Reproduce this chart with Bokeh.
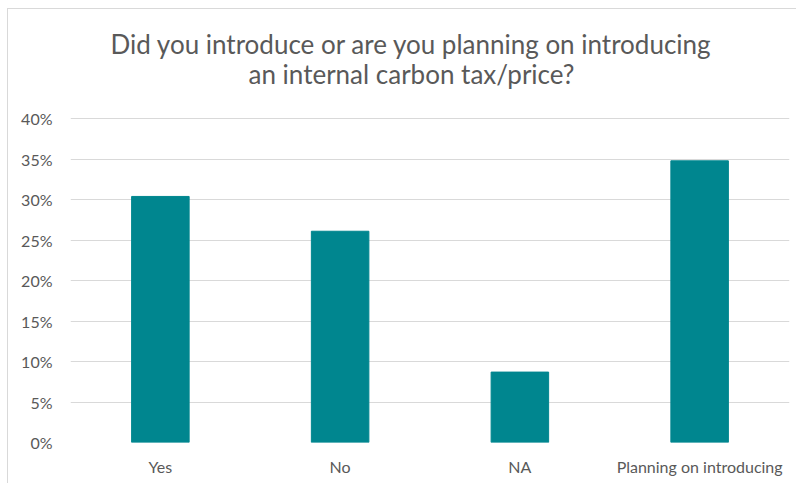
from bokeh.plotting import figure
from bokeh.models import NumeralTickFormatter, Label, FixedTicker, Range1d
from bokeh.embed import file_html
from bokeh.resources import INLINE

categories = ["Yes", "No", "NA", "Planning on introducing"]
shares = [0.304, 0.261, 0.087, 0.348]
y_ticks = [0.0, 0.05, 0.10, 0.15, 0.20, 0.25, 0.30, 0.35, 0.40]
title_lines = ["Did you introduce or are you planning on introducing",
               "an internal carbon tax/price?"]

FONT = "Lato"
GREY = "#595959"

W, H = 789, 475
LEFT, TOP, BOTTOM, RIGHT = 62, 9, 42, 8
AXIS_MAX = 0.40
AXIS_PX = 323.0          # pixel height of the 0..40% axis
HEAD_PX = 100.0          # room above the 40% line kept for the title
per_px = AXIS_MAX / AXIS_PX
y_end = AXIS_MAX + HEAD_PX * per_px

p = figure(x_range=categories, y_range=Range1d(0, y_end), width=W, height=H,
           output_backend="svg", toolbar_location=None,
           min_border_left=LEFT, min_border_right=RIGHT, min_border_top=TOP,
           min_border_bottom=BOTTOM)
p.vbar(x=categories, top=shares, width=0.32, color="#00868F")
p.x_range.range_padding = 0

p.yaxis.ticker = FixedTicker(ticks=y_ticks)
p.yaxis.formatter = NumeralTickFormatter(format="0%")
for ax in (p.xaxis[0], p.yaxis[0]):
    ax.axis_line_color = None
    ax.major_tick_line_color = None
    ax.minor_tick_line_color = None
    ax.major_label_text_color = GREY
    ax.major_label_text_font = FONT
    ax.major_label_text_font_size = "16px"
p.yaxis.major_label_standoff = 12
p.xaxis.major_label_standoff = 8

p.xgrid.grid_line_color = None
p.ygrid.grid_line_color = "#d9d9d9"
p.ygrid.grid_line_width = 1
p.outline_line_color = None
p.background_fill_color = "white"
p.border_fill_color = "white"
p.styles = {"margin-left": "7px", "margin-top": "8px",
            "border-left": "1px solid #d9d9d9", "border-top": "1px solid #d9d9d9"}

# title lines: 25px and 55px below the top of the frame
for t, off in zip(title_lines, [25, 55]):
    p.add_layout(Label(x=1.897, y=y_end - off * per_px,
                       text=t, text_align="center", text_baseline="middle",
                       text_font=FONT, text_font_size="26px", text_color=GREY))

open("out.html", "w").write(file_html(p, INLINE))
